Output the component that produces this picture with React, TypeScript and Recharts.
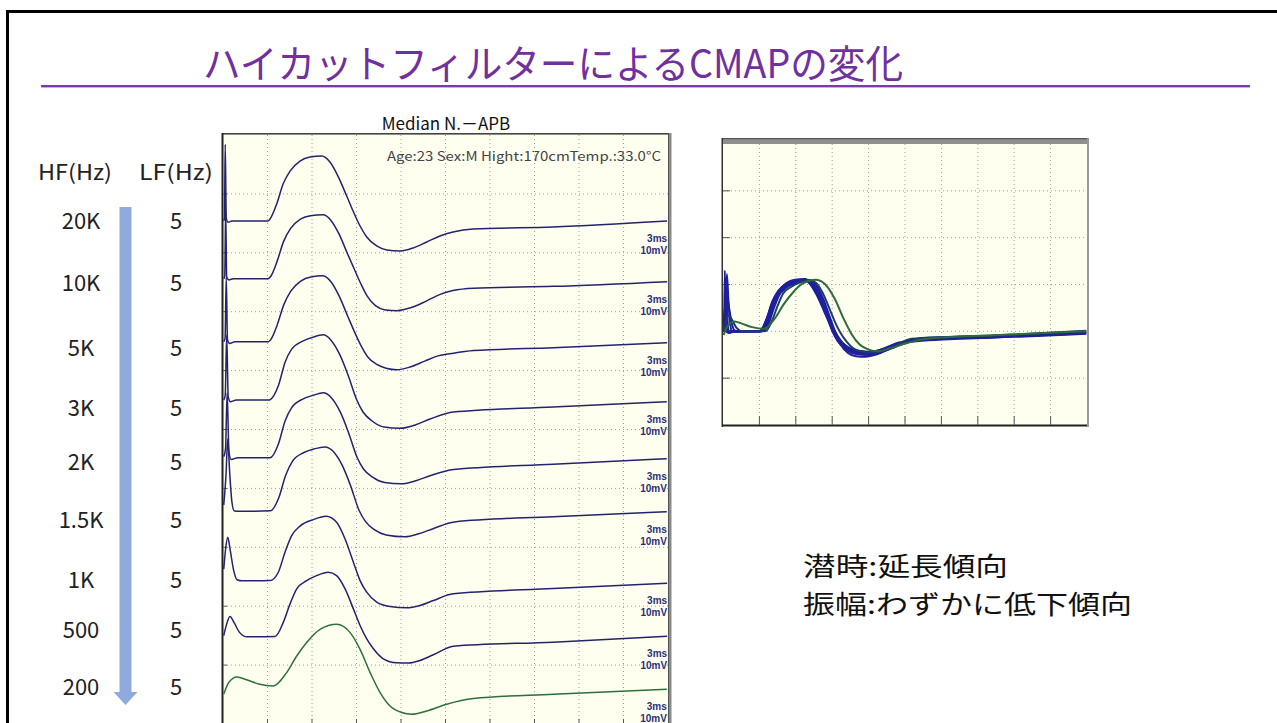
import React from 'react';
import { LineChart, Line, XAxis, YAxis, ReferenceLine, LabelList } from 'recharts';

type Sample = [number, number];

// High-cut (HF) and low-cut (LF) filter settings per trace, top to bottom
const hfLabels = ['20K', '10K', '5K', '3K', '2K', '1.5K', '1K', '500', '200'];
const lfLabels = ['5', '5', '5', '5', '5', '5', '5', '5', '5'];

// CMAP samples per trace: [time (ms), amplitude (mV) relative to the trace baseline]
const trace20k: Sample[] = [
  [0.05, 0], [0.1, 0.5], [0.15, 13.0], [0.22, 0.5], [0.35, -0.2], [0.6, 0], [3.03, 0], [3.17, 0.34],
  [3.62, 2.88], [4.05, 6.27], [4.52, 8.47], [5.19, 10.17], [5.87, 10.85], [6.66, 11.02], [7.21, 10.0],
  [7.75, 7.63], [8.34, 4.24], [8.77, 1.69], [9.24, -0.85], [9.69, -2.71], [10.36, -4.24], [11.04, -4.92],
  [11.94, -5.08], [12.81, -4.58], [13.74, -3.56], [14.63, -2.54], [15.51, -1.86], [16.86, -1.36],
  [22.25, -1.02], [29.94, 0],
];
const trace10k: Sample[] = [
  [0.05, 0], [0.12, 0.5], [0.18, 11.5], [0.25, 0.3], [0.4, -0.2], [0.7, 0], [3.03, 0], [3.2, 0.34],
  [3.64, 2.9], [4.08, 6.3], [4.55, 8.5], [5.22, 10.1], [5.9, 10.7], [6.74, 10.85], [7.28, 9.9],
  [7.82, 7.6], [8.4, 4.2], [8.84, 1.7], [9.3, -0.9], [9.71, -2.9], [10.3, -4.6], [10.95, -5.3],
  [11.73, -5.42], [12.7, -4.9], [13.7, -3.8], [14.6, -2.7], [15.5, -2.0], [16.9, -1.6], [22.25, -1.3],
  [29.94, -0.5],
];
const trace5k: Sample[] = [
  [0.05, 0], [0.14, 0.6], [0.22, 11.0], [0.3, 0.4], [0.45, -0.3], [0.8, 0], [3.05, 0], [3.2, 0.3],
  [3.66, 2.9], [4.1, 6.3], [4.57, 8.6], [5.24, 10.3], [5.92, 11.0], [6.74, 11.19], [7.3, 10.1],
  [7.84, 7.7], [8.43, 4.2], [8.86, 1.7], [9.33, -0.8], [9.76, -2.6], [10.4, -3.9], [11.0, -4.5],
  [11.73, -4.75], [12.6, -4.3], [13.6, -3.3], [14.5, -2.4], [15.4, -2.0], [16.9, -1.5], [22.25, -1.0],
  [29.94, -0.17],
];
const trace3k: Sample[] = [
  [0.05, 0], [0.15, 0.8], [0.25, 11.0], [0.35, 0.6], [0.5, -0.3], [0.9, 0], [3.1, 0], [3.17, 0.05],
  [3.73, 2.42], [4.18, 6.39], [4.63, 8.64], [5.41, 10.05], [6.07, 10.68], [6.76, 11.07], [7.28, 10.17],
  [7.89, 7.63], [8.43, 4.24], [9.02, 0], [9.44, -2.03], [10.05, -3.56], [10.86, -4.58], [11.94, -4.8],
  [12.95, -4.24], [13.96, -3.22], [15.53, -2.03], [22.25, -1.19], [29.92, -0.29],
];
const trace2k: Sample[] = [
  [0.05, 0.2], [0.17, 1.5], [0.28, 11.0], [0.4, 1.0], [0.55, -0.3], [1.0, 0], [3.17, 0], [3.73, 2.3],
  [4.18, 6.2], [4.63, 8.5], [5.41, 10.0], [6.07, 10.6], [6.76, 11.02], [7.3, 10.2], [7.92, 7.7],
  [8.46, 4.3], [9.05, 0], [9.47, -1.9], [10.08, -3.3], [10.9, -4.2], [12.05, -4.41], [13.0, -3.9],
  [14.0, -3.0], [15.55, -2.0], [22.25, -1.1], [29.92, -0.17],
];
const trace1k5: Sample[] = [
  [0.05, 1.0], [0.2, 6.0], [0.32, 12.2], [0.45, 6.5], [0.6, 1.5], [0.75, 0], [1.0, -0.1], [3.2, 0],
  [3.76, 2.2], [4.22, 6.0], [4.68, 8.4], [5.46, 9.9], [6.13, 10.5], [6.88, 10.85], [7.42, 10.1],
  [8.04, 7.7], [8.58, 4.4], [9.17, 0.1], [9.6, -1.8], [10.2, -3.2], [11.0, -4.1], [12.27, -4.41],
  [13.2, -3.9], [14.2, -3.0], [15.6, -1.9], [22.25, -1.0], [29.92, -0.17],
];
const trace1k: Sample[] = [
  [0.05, 2.0], [0.18, 5.5], [0.32, 7.4], [0.5, 5.0], [0.7, 2.0], [0.95, 0.2], [1.3, 0], [3.17, 0.05],
  [3.73, 1.47], [4.18, 4.86], [4.63, 7.68], [5.19, 9.3], [6.09, 10.4], [6.95, 10.97], [7.66, 9.95],
  [8.23, 7.12], [8.79, 3.17], [9.24, 0.05], [9.69, -1.92], [10.36, -3.61], [11.26, -4.36],
  [12.38, -4.58], [13.28, -4.19], [14.18, -3.34], [15.53, -2.2], [22.27, -1.3], [29.94, -0.39],
];
const trace500: Sample[] = [
  [0.05, 0.2], [0.25, 2.2], [0.47, 3.46], [0.75, 2.4], [1.1, 0.8], [1.62, 0], [3.51, 0.05], [4.07, 2.49],
  [4.52, 5.59], [4.97, 8.14], [5.64, 9.54], [6.31, 10.39], [7.1, 10.97], [7.66, 10.39], [8.23, 8.14],
  [8.79, 4.75], [9.24, 1.92], [9.69, -0.34], [10.14, -2.03], [10.81, -3.73], [11.71, -4.41],
  [12.5, -4.46], [13.28, -4.02], [14.18, -3.05], [15.53, -1.58], [22.27, -0.9], [29.94, 0.1],
];
const trace200: Sample[] = [
  [0.05, -0.8], [0.4, 1.2], [0.94, 2.1], [1.6, 1.6], [2.4, 0.9], [3.39, 0.56], [4.29, 2.83],
  [4.97, 5.64], [5.64, 7.92], [6.54, 10.17], [7.67, 11.02], [8.57, 9.61], [9.24, 6.78], [9.92, 2.83],
  [10.59, -0.56], [11.26, -2.83], [12.05, -3.95], [12.72, -4.24], [13.73, -3.68], [15.08, -2.54],
  [16.88, -1.58], [22.27, -0.85], [29.92, 0],
];

const traceSamples = [trace20k, trace10k, trace5k, trace3k, trace2k, trace1k5, trace1k, trace500, trace200];

// baseline of each trace in the stacked display (mV on a 10 mV/div screen)
const stackOffsets = [85.4, 75.6, 64.9, 55.0, 45.2, 36.2, 24.3, 14.8, 5.9];

// screen divisions: 3 ms/div horizontally, 10 mV/div vertically
const timeDivs = [3, 6, 9, 12, 15, 18, 21, 24, 27];
const stackDivs = [10, 20, 30, 40, 50, 60, 70, 80, 90];
const overlayDivs = [-10, 0, 10, 20, 30];

const stackColors = ['#23236e', '#23236e', '#23236e', '#23236e', '#23236e', '#23236e', '#23236e', '#23236e', '#2f6e3e'];
const overlayColors = ['#1f1fa0', '#1f1fa0', '#1f1fa0', '#1f1fa0', '#1f1fa0', '#1f1fa0', '#1f1f96', '#1c3c6e', '#2e6a3c'];

// vertical centres of the filter rows in the left table
const rowCenters = [219, 281, 346, 406, 460, 518, 578, 628, 685];

const JP = "'Noto Sans CJK JP', 'Noto Sans', sans-serif";
const SCREEN_BG = '#FFFFF0';
const GRID = '#a09f90';
const TICK = '#555';

const renderEndLabel = (p: any, count: number) => {
  if (p.index !== count - 1) return null;
  const x = p.x ?? p.viewBox?.x;
  const y = p.y ?? p.viewBox?.y;
  const common = {
    x,
    textAnchor: 'end' as const,
    fontSize: 10,
    fontWeight: 700,
    fill: '#2b2f7a',
    fontFamily: "'Liberation Sans', Arial, sans-serif",
  };
  return (
    <g key={`end-${p.index}`}>
      <text {...common} y={y + 21}>3ms</text>
      <text {...common} y={y + 33}>10mV</text>
    </g>
  );
};

// dotted division lines plus the short tick marks along the left and bottom edges
function screenGrid(
  yDivs: number[],
  yMin: number,
  bottomTick: number,
  leftTick: number,
  prefix: string
) {
  const items: React.ReactNode[] = [];
  timeDivs.forEach((t) => {
    items.push(
      <ReferenceLine key={`${prefix}-vx-${t}`} x={t} stroke={GRID} strokeDasharray="1 3" strokeWidth={1} />
    );
    items.push(
      <ReferenceLine
        key={`${prefix}-tx-${t}`}
        segment={[{ x: t, y: yMin }, { x: t, y: yMin + bottomTick }]}
        stroke={TICK}
        strokeWidth={1}
      />
    );
  });
  yDivs.forEach((v) => {
    items.push(
      <ReferenceLine key={`${prefix}-hy-${v}`} y={v} stroke={GRID} strokeDasharray="1 3" strokeWidth={1} />
    );
    items.push(
      <ReferenceLine
        key={`${prefix}-ty-${v}`}
        segment={[{ x: 0, y: v }, { x: leftTick, y: v }]}
        stroke={TICK}
        strokeWidth={1}
      />
    );
  });
  return items;
}

export default function App() {
  const stacked = traceSamples.map((pts, i) =>
    pts.map(([t, v]) => ({ t, v: Math.round((v + stackOffsets[i]) * 1000) / 1000 }))
  );
  const overlay = traceSamples.map((pts) => pts.map(([t, v]) => ({ t, v })));

  return (
    <div
      style={{
        position: 'absolute',
        left: 0,
        top: 0,
        width: 1277,
        height: 723,
        overflow: 'hidden',
        background: '#ffffff',
        fontFamily: JP,
      }}
    >
      <svg width={1277} height={723} style={{ position: 'absolute', left: 0, top: 0 }}>
        {/* slide frame */}
        <rect x={6} y={10} width={3} height={720} fill="#000" />
        <rect x={6} y={10} width={1280} height={3} fill="#000" />

        {/* title */}
        <text
          x={203}
          y={61}
          dominantBaseline="central"
          fontSize={39}
          fill="#7030A0"
          fontFamily={JP}
          textLength={700}
          lengthAdjust="spacingAndGlyphs"
        >
          ハイカットフィルターによるCMAPの変化
        </text>
        <rect x={41} y={85} width={1209} height={2.4} fill="#7a3aa8" />

        {/* filter table */}
        <text x={75} y={171} textAnchor="middle" dominantBaseline="central" fontSize={21} fill="#222" fontFamily={JP} textLength={74} lengthAdjust="spacingAndGlyphs">HF(Hz)</text>
        <text x={176} y={171} textAnchor="middle" dominantBaseline="central" fontSize={21} fill="#222" fontFamily={JP} textLength={74} lengthAdjust="spacingAndGlyphs">LF(Hz)</text>
        <polygon
          points="119.5,207 131.5,207 131.5,692 137.5,692 125.5,705 113.5,692 119.5,692"
          fill="#8FAADC"
        />
        {hfLabels.map((lab, i) => (
          <text key={`hf-${lab}`} x={81} y={rowCenters[i]} textAnchor="middle" dominantBaseline="central" fontSize={22} fill="#222" fontFamily={JP}>
            {lab}
          </text>
        ))}
        {lfLabels.map((lab, i) => (
          <text key={`lf-${i}`} x={176} y={rowCenters[i]} textAnchor="middle" dominantBaseline="central" fontSize={22} fill="#222" fontFamily={JP}>
            {lab}
          </text>
        ))}

        {/* stacked recording screen */}
        <text x={446} y={122} textAnchor="middle" dominantBaseline="central" fontSize={17} fill="#111" fontFamily={JP}>
          Median N.－APB
        </text>
        <rect x={222} y={133} width={449} height={600} fill={SCREEN_BG} />
        <rect x={222} y={133} width={449} height={1.6} fill="#444" />
        <rect x={221.5} y={133} width={2} height={600} fill="#222" />
        <rect x={668} y={133} width={3.5} height={600} fill="#8a8a8a" />
        <rect x={668} y={133} width={1} height={600} fill="#555" />
        <text x={661} y={155} textAnchor="end" dominantBaseline="central" fontSize={13} fill="#444" fontFamily={JP} textLength={274} lengthAdjust="spacingAndGlyphs">
          Age:23 Sex:M Hight:170cmTemp.:33.0°C
        </text>

        {/* superimposed screen */}
        <rect x={722} y={138} width={367} height={289} fill={SCREEN_BG} />
        <rect x={722} y={138} width={367} height={6} fill="#8f8f8f" />
        <rect x={722} y={138} width={367} height={1.2} fill="#555" />
        <rect x={721.5} y={138} width={1.5} height={289} fill="#333" />
        <rect x={722} y={424.5} width={367} height={2} fill="#222" />
        <rect x={1087} y={138} width={2} height={289} fill="#999" />

        {/* findings */}
        <text x={803} y={564} dominantBaseline="central" fontSize={26} fill="#111" fontFamily={JP} textLength={205} lengthAdjust="spacingAndGlyphs">
          潜時:延長傾向
        </text>
        <text x={803} y={602} dominantBaseline="central" fontSize={26} fill="#111" fontFamily={JP} textLength={329} lengthAdjust="spacingAndGlyphs">
          振幅:わずかに低下傾向
        </text>
      </svg>

      {/* stacked CMAP traces, 3 ms/div and 10 mV/div */}
      <div style={{ position: 'absolute', left: 223, top: 135 }}>
        <LineChart width={445} height={589} margin={{ top: 0, right: 0, bottom: 0, left: 0 }}>
          <XAxis type="number" dataKey="t" domain={[0, 30]} allowDataOverflow hide />
          <YAxis type="number" domain={[0, 100]} allowDataOverflow hide />
          {screenGrid(stackDivs, 0, 0.85, 0.28, 'stk')}
          {stacked.map((d, i) => (
            <Line
              key={`stack-${hfLabels[i]}`}
              name={hfLabels[i]}
              data={d}
              dataKey="v"
              type="monotone"
              dot={false}
              activeDot={false}
              stroke={stackColors[i]}
              strokeWidth={1.5}
              isAnimationActive={false}
            >
              <LabelList dataKey="v" content={(p: any) => renderEndLabel(p, d.length)} />
            </Line>
          ))}
        </LineChart>
      </div>

      {/* all traces superimposed on one baseline */}
      <div style={{ position: 'absolute', left: 723, top: 144 }}>
        <LineChart width={364} height={281} margin={{ top: 0, right: 0, bottom: 0, left: 0 }}>
          <XAxis type="number" dataKey="t" domain={[0, 30]} allowDataOverflow hide />
          <YAxis type="number" domain={[-20, 40]} allowDataOverflow hide />
          {screenGrid(overlayDivs, -20, 1.9, 0.58, 'ovl')}
          {overlay.map((d, i) => (
            <Line
              key={`over-${hfLabels[i]}`}
              name={hfLabels[i]}
              data={d}
              dataKey="v"
              type="monotone"
              dot={false}
              activeDot={false}
              stroke={overlayColors[i]}
              strokeWidth={2}
              isAnimationActive={false}
            />
          ))}
        </LineChart>
      </div>
    </div>
  );
}
